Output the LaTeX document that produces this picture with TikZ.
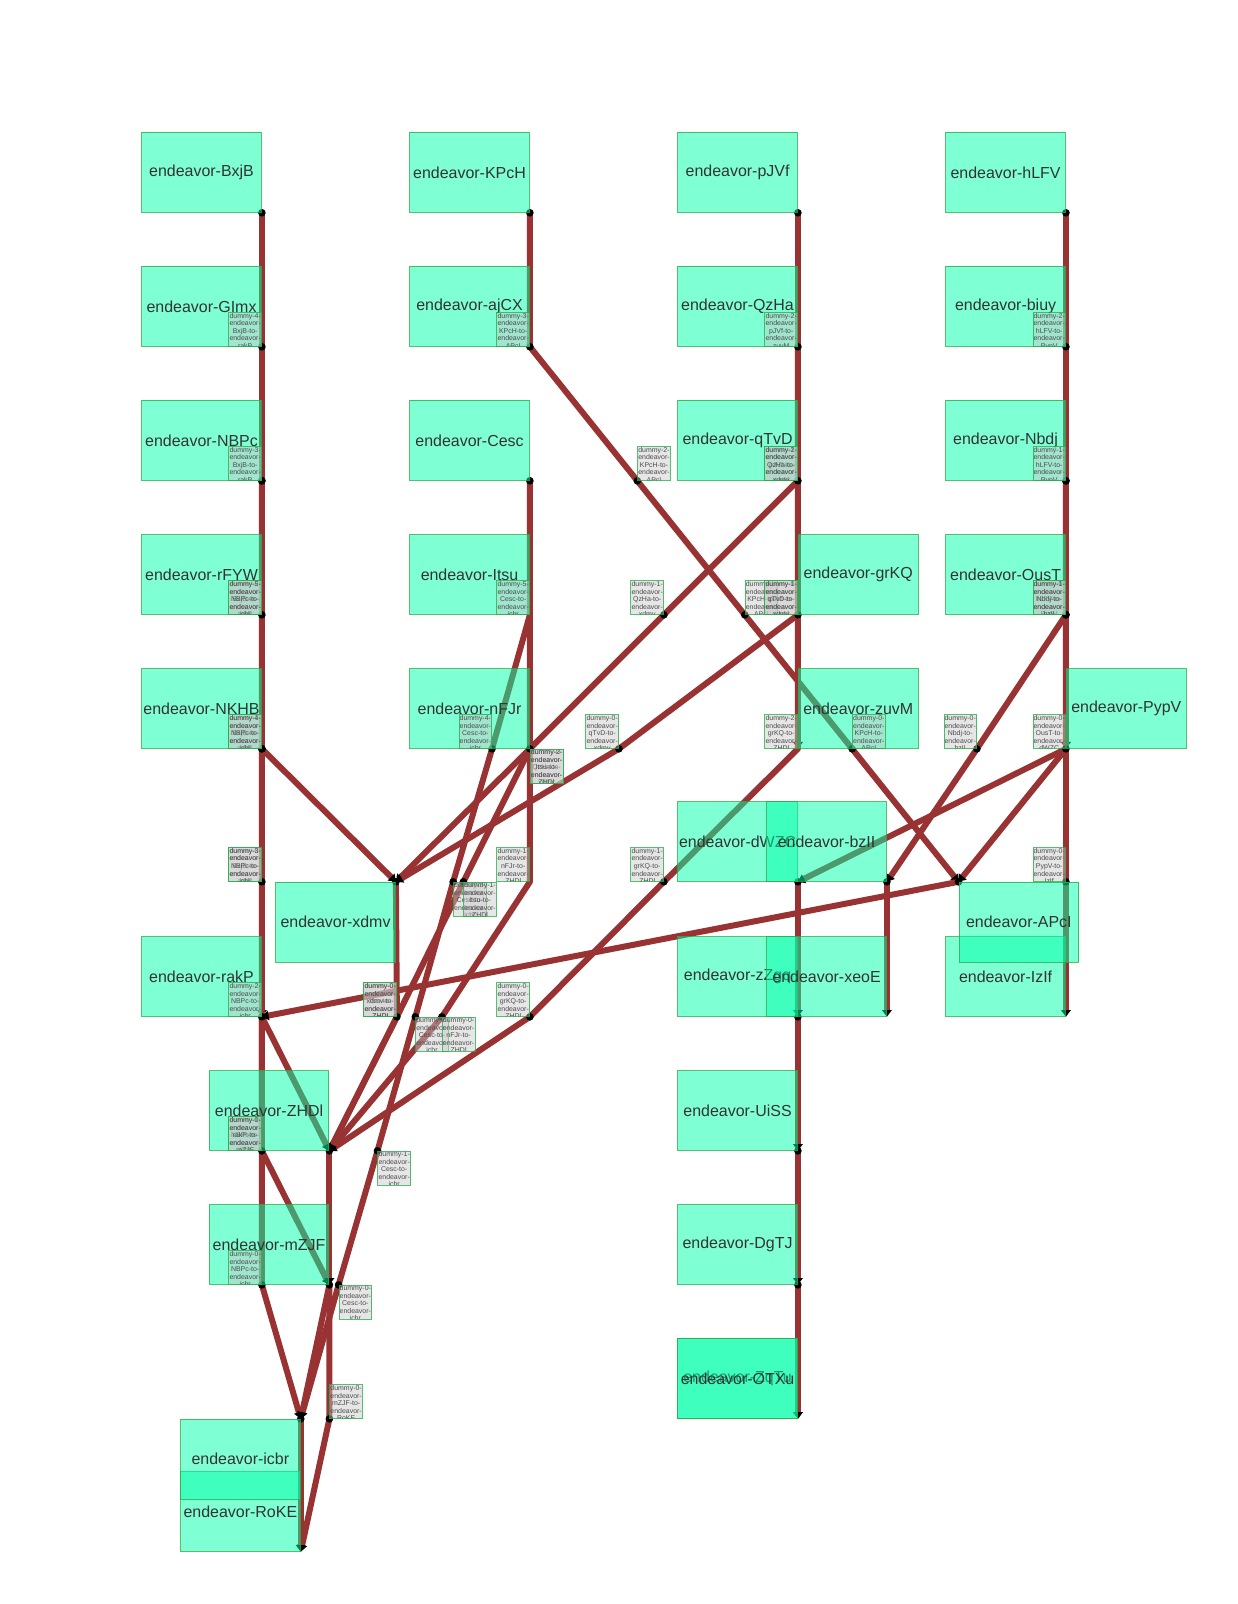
\documentclass[tikz,border=0pt]{standalone}
\usepackage{fontspec}
\setmainfont{Liberation Sans}
\usetikzlibrary{arrows.meta}

\definecolor{edgered}{RGB}{153,51,51}
\definecolor{boxfill}{RGB}{0,255,170}
\definecolor{boxline}{RGB}{40,175,75}
\definecolor{boxtext}{RGB}{51,51,51}
\definecolor{dumfill}{RGB}{200,200,200}

\pgfdeclarelayer{edges}
\pgfsetlayers{edges,main}

\tikzset{
  ebox/.style={draw=boxline, line width=0.75pt, draw opacity=0.8, fill=boxfill, fill opacity=0.5, text opacity=1, text=boxtext, minimum width=87.75pt, minimum height=58.5pt, inner sep=0pt, font=\fontsize{11.7}{14}\selectfont},
  dlabel/.style={draw=boxline, line width=0.5pt, draw opacity=0.8, fill=dumfill, fill opacity=0.45, minimum width=24pt, minimum height=24.75pt, inner sep=0pt},
  dtext/.style={anchor=north, align=center, inner sep=0pt, fill opacity=1, text opacity=1, text=black!70, font=\fontsize{5.1}{5.5}\selectfont},
  conn/.style={draw=edgered, line width=4.4pt, line join=round, -{Triangle[length=5pt,width=7pt,color=black,fill=black]}},
}

% dummy bend point with its small label
\newcommand{\dummypt}[6]{%
  \coordinate (#1) at (#2);
  \node[dlabel, anchor=#3, path picture={\node[dtext] at ([yshift=-0.3pt]path picture bounding box.north) {dummy-#4-\\endeavor-\\#5-to-\\endeavor-\\#6};}] at (#1) {};
}

\begin{document}
\begin{tikzpicture}[x=0.75pt, y=-0.75pt]
  \useasboundingbox (0,0) rectangle (1210,1568);

  % rank 0 - 4
  \node[ebox, anchor=south east] (BxjB) at (256,208) {endeavor-BxjB};
  \node[ebox, anchor=south east] (KPcH) at (518,208) {endeavor-KPcH};
  \node[ebox, anchor=south east] (pJVf) at (780,208) {endeavor-pJVf};
  \node[ebox, anchor=south east] (hLFV) at (1042,208) {endeavor-hLFV};
  \node[ebox, anchor=south east] (GImx) at (256,339) {endeavor-GImx};
  \node[ebox, anchor=south east] (ajCX) at (518,339) {endeavor-ajCX};
  \node[ebox, anchor=south east] (QzHa) at (780,339) {endeavor-QzHa};
  \node[ebox, anchor=south east] (biuy) at (1042,339) {endeavor-biuy};
  \node[ebox, anchor=south east] (NBPc) at (256,470) {endeavor-NBPc};
  \node[ebox, anchor=south east] (Cesc) at (518,470) {endeavor-Cesc};
  \node[ebox, anchor=south east] (qTvD) at (780,470) {endeavor-qTvD};
  \node[ebox, anchor=south east] (Nbdj) at (1042,470) {endeavor-Nbdj};
  \node[ebox, anchor=south east] (rFYW) at (256,601) {endeavor-rFYW};
  \node[ebox, anchor=south east] (Itsu) at (518,601) {endeavor-Itsu};
  \node[ebox, anchor=south west] (grKQ) at (780,601) {endeavor-grKQ};
  \node[ebox, anchor=south east] (OusT) at (1042,601) {endeavor-OusT};
  \node[ebox, anchor=south east] (NKHB) at (256,732) {endeavor-NKHB};
  \node[ebox, anchor=south east] (nFJr) at (518,732) {endeavor-nFJr};
  \node[ebox, anchor=south west] (zuvM) at (780,732) {endeavor-zuvM};
  \node[ebox, anchor=south west] (PypV) at (1042,732) {endeavor-PypV};

  % rank 5 - 10
  \node[ebox, anchor=north east] (xdmv) at (387,862) {endeavor-xdmv};
  \node[ebox, anchor=south east] (dWZC) at (780,862) {endeavor-dWZC};
  \node[ebox, anchor=south east] (bzII) at (867,862) {endeavor-bzII};
  \node[ebox, anchor=south east] (rakP) at (256,994) {endeavor-rakP};
  \node[ebox, anchor=south east] (zZgq) at (780,994) {endeavor-zZgq};
  \node[ebox, anchor=south east] (xeoE) at (867,994) {endeavor-xeoE};
  \node[ebox, anchor=south east] (IzIf) at (1042,994) {endeavor-IzIf};
  \node[ebox, anchor=north west] (APcI) at (937,862) {endeavor-APcI};
  \node[ebox, anchor=south east] (ZHDl) at (322,1125) {endeavor-ZHDl};
  \node[ebox, anchor=south east] (UiSS) at (780,1125) {endeavor-UiSS};
  \node[ebox, anchor=south east] (mZJF) at (322,1256) {endeavor-mZJF};
  \node[ebox, anchor=south east] (DgTJ) at (780,1256) {endeavor-DgTJ};
  \node[ebox, anchor=south east] (ZqTu) at (780,1387) {endeavor-ZqTu};
  \node[ebox, anchor=south east] (OTXu) at (780,1387) {endeavor-OTXu};
  \node[ebox, anchor=south east] (RoKE) at (294,1517) {endeavor-RoKE};
  \node[ebox, anchor=north east] (icbr) at (294,1387) {endeavor-icbr};

  % dummy points
  \dummypt{br4}{256,339}{south east}{4}{BxjB}{rakP}
  \dummypt{br3}{256,470}{south east}{3}{BxjB}{rakP}
  \dummypt{br2}{256,601}{south east}{2}{BxjB}{rakP}
  \dummypt{br1}{256,732}{south east}{1}{BxjB}{rakP}
  \dummypt{br0}{256,862}{south east}{0}{BxjB}{rakP}
  \dummypt{ni5}{256,601}{south east}{5}{NBPc}{icbr}
  \dummypt{ni4}{256,732}{south east}{4}{NBPc}{icbr}
  \dummypt{ni3}{256,862}{south east}{3}{NBPc}{icbr}
  \dummypt{ni2}{256,994}{south east}{2}{NBPc}{icbr}
  \dummypt{ni1}{256,1125}{south east}{1}{NBPc}{icbr}
  \dummypt{ni0}{256,1256}{south east}{0}{NBPc}{icbr}
  \dummypt{rm0}{256,1125}{south east}{0}{rakP}{mZJF}
  \dummypt{ka3}{518,339}{south east}{3}{KPcH}{APcI}
  \dummypt{ka2}{623,470}{south west}{2}{KPcH}{APcI}
  \dummypt{ka1}{728,601}{south west}{1}{KPcH}{APcI}
  \dummypt{ka0}{833,732}{south west}{0}{KPcH}{APcI}
  \dummypt{pz2}{780,339}{south east}{2}{pJVf}{zuvM}
  \dummypt{pz1}{780,470}{south east}{1}{pJVf}{zuvM}
  \dummypt{pz0}{780,601}{south east}{0}{pJVf}{zuvM}
  \dummypt{hp2}{1042,339}{south east}{2}{hLFV}{PypV}
  \dummypt{hp1}{1042,470}{south east}{1}{hLFV}{PypV}
  \dummypt{hp0}{1042,601}{south east}{0}{hLFV}{PypV}
  \dummypt{qx2}{780,470}{south east}{2}{QzHa}{xdmv}
  \dummypt{qx1}{649,601}{south east}{1}{QzHa}{xdmv}
  \dummypt{qx0}{518,732}{north west}{0}{QzHa}{xdmv}
  \dummypt{tx1}{780,601}{south east}{1}{qTvD}{xdmv}
  \dummypt{tx0}{605,732}{south east}{0}{qTvD}{xdmv}
  \dummypt{ci5}{518,601}{south east}{5}{Cesc}{icbr}
  \dummypt{ci4}{481,732}{south east}{4}{Cesc}{icbr}
  \dummypt{ci3}{443,862}{north west}{3}{Cesc}{icbr}
  \dummypt{ci2}{406,994}{north west}{2}{Cesc}{icbr}
  \dummypt{ci1}{369,1125}{north west}{1}{Cesc}{icbr}
  \dummypt{ci0}{331,1256}{north west}{0}{Cesc}{icbr}
  \dummypt{iz2}{518,732}{north west}{2}{Itsu}{ZHDl}
  \dummypt{iz1}{453,862}{north west}{1}{Itsu}{ZHDl}
  \dummypt{iz0}{388,994}{south east}{0}{Itsu}{ZHDl}
  \dummypt{nz1}{518,862}{south east}{1}{nFJr}{ZHDl}
  \dummypt{nz0}{432,994}{north west}{0}{nFJr}{ZHDl}
  \dummypt{gz2}{780,732}{south east}{2}{grKQ}{ZHDl}
  \dummypt{gz1}{649,862}{south east}{1}{grKQ}{ZHDl}
  \dummypt{gz0}{518,994}{south east}{0}{grKQ}{ZHDl}
  \dummypt{xz0}{388,994}{south east}{0}{xdmv}{ZHDl}
  \dummypt{nb1}{1042,601}{south east}{1}{Nbdj}{bzII}
  \dummypt{nb0}{955,732}{south east}{0}{Nbdj}{bzII}
  \dummypt{od0}{1042,732}{south east}{0}{OusT}{dWZC}
  \dummypt{pi0}{1042,862}{south east}{0}{PypV}{IzIf}
  \dummypt{mr0}{322,1387}{south west}{0}{mZJF}{RoKE}

  \begin{pgfonlayer}{edges}
    % long edges through dummies
    \draw[conn] (BxjB.south east) -- (br4) -- (br3) -- (br2) -- (br1) -- (br0) -- (rakP.south east);
    \draw[conn] (NBPc.south east) -- (ni5) -- (ni4) -- (ni3) -- (ni2) -- (ni1) -- (ni0) -- (icbr.north east);
    \draw[conn] (rakP.south east) -- (rm0) -- (mZJF.south east);
    \draw[conn] (KPcH.south east) -- (ka3) -- (ka2) -- (ka1) -- (ka0) -- (APcI.north west);
    \draw[conn] (pJVf.south east) -- (pz2) -- (pz1) -- (pz0) -- (zuvM.south west);
    \draw[conn] (hLFV.south east) -- (hp2) -- (hp1) -- (hp0) -- (PypV.south west);
    \draw[conn] (QzHa.south east) -- (qx2) -- (qx1) -- (qx0) -- (xdmv.north east);
    \draw[conn] (qTvD.south east) -- (tx1) -- (tx0) -- (xdmv.north east);
    \draw[conn] (Cesc.south east) -- (ci5) -- (ci4) -- (ci3) -- (ci2) -- (ci1) -- (ci0) -- (icbr.north east);
    \draw[conn] (Itsu.south east) -- (iz2) -- (iz1) -- (iz0) -- (ZHDl.south east);
    \draw[conn] (nFJr.south east) -- (nz1) -- (nz0) -- (ZHDl.south east);
    \draw[conn] (grKQ.south west) -- (gz2) -- (gz1) -- (gz0) -- (ZHDl.south east);
    \draw[conn] (xdmv.north east) -- (xz0) -- (ZHDl.south east);
    \draw[conn] (Nbdj.south east) -- (nb1) -- (nb0) -- (bzII.south east);
    \draw[conn] (OusT.south east) -- (od0) -- (dWZC.south east);
    \draw[conn] (PypV.south west) -- (pi0) -- (IzIf.south east);
    \draw[conn] (mZJF.south east) -- (mr0) -- (RoKE.south east);
    % short edges
    \draw[conn] (NKHB.south east) -- (xdmv.north east);
    \draw[conn] (rakP.south east) -- (ZHDl.south east);
    \draw[conn] (APcI.north west) -- (rakP.south east);
    \draw[conn] (ZHDl.south east) -- (mZJF.south east);
    \draw[conn] (mZJF.south east) -- (icbr.north east);
    \draw[conn] (icbr.north east) -- (RoKE.south east);
    \draw[conn] (PypV.south west) -- (APcI.north west);
    \draw[conn] (bzII.south east) -- (xeoE.south east);
    \draw[conn] (dWZC.south east) -- (zZgq.south east);
    \draw[conn] (zZgq.south east) -- (UiSS.south east);
    \draw[conn] (UiSS.south east) -- (DgTJ.south east);
    \draw[conn] (DgTJ.south east) -- (OTXu.south east);
    \draw[conn] (DgTJ.south east) -- (ZqTu.south east);
    % joints
    \foreach \p in {BxjB.south east, KPcH.south east, pJVf.south east, hLFV.south east,
      NBPc.south east, Cesc.south east, Nbdj.south east, OusT.south east,
      NKHB.south east, nFJr.south east, xdmv.north east, dWZC.south east, bzII.south east,
      APcI.north west, rakP.south east, zZgq.south east, ZHDl.south east, UiSS.south east,
      mZJF.south east, DgTJ.south east, icbr.north east,
      br4, br3, br2, br1, br0, ni0, rm0, ka3, ka2, ka1, ka0, pz2, pz1, pz0, hp2, hp1, hp0,
      qx1, tx0, ci4, ci3, ci2, ci1, ci0, iz1, iz0, nz0, gz1, gz0, nb0, od0, pi0, mr0}
      \fill (\p) circle[radius=2.8pt];
  \end{pgfonlayer}
\end{tikzpicture}
\end{document}
